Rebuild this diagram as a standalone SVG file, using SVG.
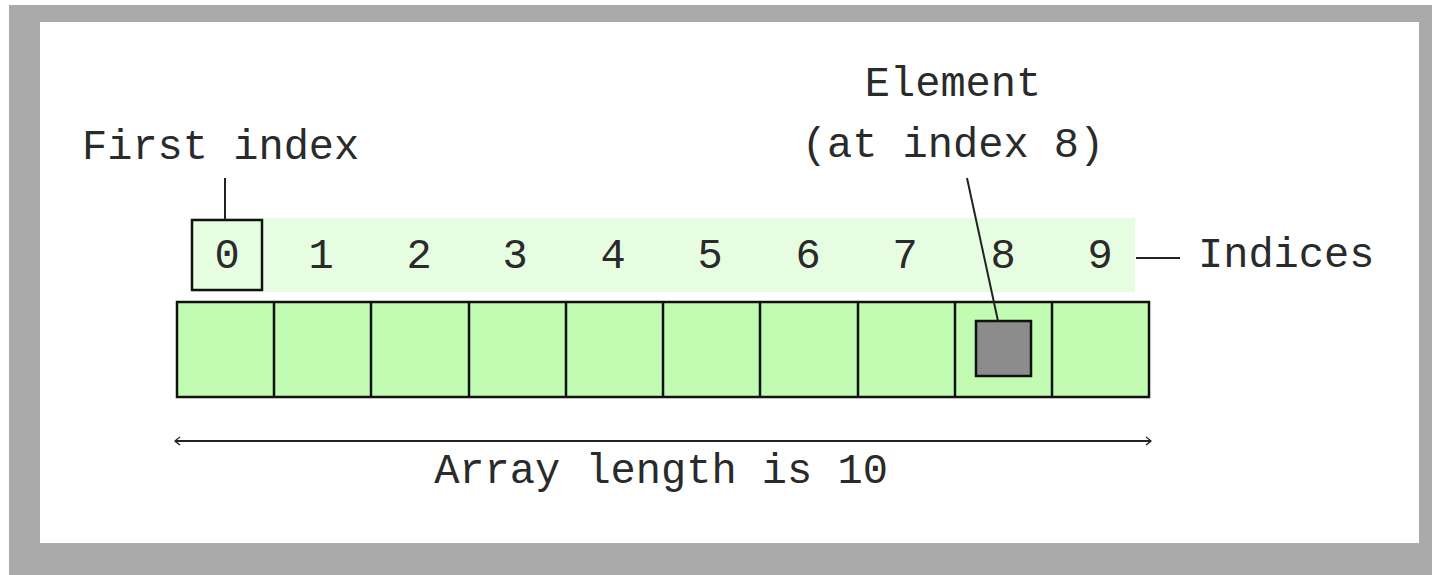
<svg xmlns="http://www.w3.org/2000/svg" width="1432" height="575" viewBox="0 0 1432 575">
<style>
.t{font-family:"Liberation Mono","DejaVu Sans Mono",monospace;font-size:42px;fill:#2a2a2a}
.c{text-anchor:middle}
.cell{fill:#c2fcb2;stroke:#111;stroke-width:2.5}
.ln{stroke:#222;stroke-width:2;fill:none}
</style>
<defs>
<marker id="hook" viewBox="0 0 10 10" refX="9" refY="5" markerWidth="10" markerHeight="10" markerUnits="userSpaceOnUse" orient="auto-start-reverse">
<path d="M4,1 Q8,4 9,5 Q8,6 4,9" fill="none" stroke="#222" stroke-width="1.3"/>
</marker>
</defs>
<rect x="9" y="5" width="1423" height="570" fill="#aaaaaa"/>
<rect x="40" y="22" width="1379" height="521" fill="#ffffff"/>
<rect x="192" y="218" width="943" height="74" fill="#e7fde2"/>
<g id="cells">
<rect class="cell" x="177" y="302" width="972" height="95"/>
<path d="M274,302V397M371,302V397M469,302V397M566,302V397M663,302V397M760,302V397M858,302V397M955,302V397M1052,302V397" stroke="#111" stroke-width="2.5"/>
</g>
<g id="element8">
<rect x="976" y="321" width="55" height="55" fill="#8c8c8c" stroke="#111" stroke-width="2.5"/>
</g>
<g id="index0box">
<rect x="192" y="220" width="70" height="70" fill="#e7fde2" stroke="#111" stroke-width="2.5"/>
</g>
<g id="indices">
<text class="t c" x="227" y="268">0</text>
<text class="t c" x="321" y="268">1</text>
<text class="t c" x="419" y="268">2</text>
<text class="t c" x="515" y="268">3</text>
<text class="t c" x="613" y="268">4</text>
<text class="t c" x="710" y="268">5</text>
<text class="t c" x="808" y="268">6</text>
<text class="t c" x="905" y="268">7</text>
<text class="t c" x="1003" y="268">8</text>
<text class="t c" x="1100" y="268">9</text>
</g>
<g id="labels">
<text class="t" x="82" y="159">First index</text>
<text class="t c" x="953" y="96">Element</text>
<text class="t c" x="953" y="157">(at index 8)</text>
<text class="t" x="1198" y="267">Indices</text>
<text class="t c" x="661" y="483">Array length is 10</text>
</g>
<g id="connectors">
<line class="ln" x1="225" y1="178" x2="225" y2="220"/>
<line class="ln" x1="967" y1="178" x2="998" y2="321"/>
<line class="ln" x1="1136" y1="258" x2="1180" y2="258" stroke-width="2.5"/>
<line class="ln" x1="175" y1="441" x2="1151" y2="441" stroke-width="2" marker-start="url(#hook)" marker-end="url(#hook)"/>
</g>
</svg>
